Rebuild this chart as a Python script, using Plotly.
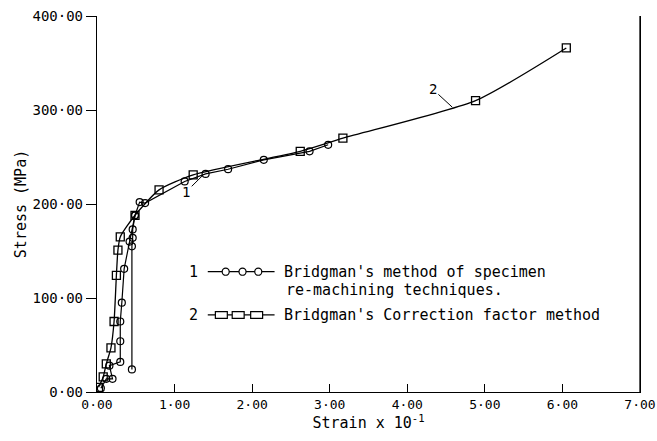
import plotly.graph_objects as go

# Series 1: Bridgman's method of specimen re-machining techniques (circles); None separates branches
strain_1 = [0.05, 0.12, 0.20, 0.16, 0.30, 0.30, 0.30, 0.32, 0.35, 0.42, 0.49, 0.55, 0.62, 1.13, 1.40, 1.69, 2.15, 2.74, 2.98,
            None, 0.45, 0.45, 0.46, 0.46, 0.49]
stress_1 = [4, 14, 14, 28, 32, 54, 75, 95, 131, 160, 188, 202, 201, 224, 232, 237, 247, 256, 263,
            None, 24, 155, 164, 173, 188]

# Series 2: Bridgman's Correction factor method (squares)
strain_2 = [0.02, 0.08, 0.12, 0.18, 0.22, 0.25, 0.27, 0.30, 0.49, 0.80, 1.24, 2.62, 3.17, 4.88, 6.05]
stress_2 = [5, 16, 30, 47, 75, 124, 151, 165, 188, 215, 231, 256, 270, 310, 366]

x_ticks = [0, 1, 2, 3, 4, 5, 6, 7]
x_ticktext = ["0·00", "1·00", "2·00", "3·00", "4·00", "5·00", "6·00", "7·00"]
y_ticks = [0, 100, 200, 300, 400]
y_ticktext = ["0·00", "100·00", "200·00", "300·00", "400·00"]

legend_1 = "Bridgman's method of specimen"
legend_1b = "re-machining techniques."
legend_2 = "Bridgman's Correction factor method"

FONT = "DejaVu Sans Mono"
fig = go.Figure()

fig.add_trace(go.Scatter(
    x=strain_1, y=stress_1, mode="lines+markers",
    line=dict(color="black", width=1.2),
    marker=dict(symbol="circle-open", size=7, color="black", line=dict(width=1.2)),
    showlegend=False, connectgaps=False))

fig.add_trace(go.Scatter(
    x=strain_2, y=stress_2, mode="lines+markers",
    line=dict(color="black", width=1.3, shape="spline", smoothing=0.6),
    marker=dict(symbol="square-open", size=8, color="black", line=dict(width=1.3)),
    showlegend=False))

# curve labels with leader lines
fig.add_annotation(x=1.37, y=231, ax=1.15, ay=213, axref="x", ayref="y", xref="x", yref="y",
                   text="1", showarrow=True, arrowhead=0, arrowwidth=1, arrowcolor="black",
                   font=dict(family=FONT, size=14, color="black"))
fig.add_annotation(x=4.58, y=303, ax=4.33, ay=322, axref="x", ayref="y", xref="x", yref="y",
                   text="2", showarrow=True, arrowhead=0, arrowwidth=1, arrowcolor="black",
                   font=dict(family=FONT, size=14, color="black"))

# right frame line
fig.add_shape(type="line", xref="paper", yref="paper", x0=1, x1=1, y0=0, y1=1,
              line=dict(color="black", width=1.3))

# custom legend (paper coords)
def legend_row(y, num, sym, xs):
    fig.add_annotation(x=0.178, y=y, xref="paper", yref="paper", text=num, showarrow=False,
                       xanchor="center", yanchor="middle",
                       font=dict(family=FONT, size=15, color="black"))
    fig.add_shape(type="line", xref="paper", yref="paper", x0=0.204, x1=0.327, y0=y, y1=y,
                  line=dict(color="black", width=1.2))
    for xc in xs:
        if sym == "circle":
            fig.add_shape(type="circle", xref="paper", yref="paper", x0=xc - 0.0065, x1=xc + 0.0065,
                          y0=y - 0.0095, y1=y + 0.0095, line=dict(color="black", width=1.2), fillcolor="white")
        else:
            fig.add_shape(type="rect", xref="paper", yref="paper", x0=xc - 0.011, x1=xc + 0.011,
                          y0=y - 0.009, y1=y + 0.009, line=dict(color="black", width=1.2), fillcolor="white")

legend_row(0.32, "1", "circle", [0.237, 0.268, 0.297])
legend_row(0.205, "2", "square", [0.229, 0.260, 0.294])
fig.add_annotation(x=0.341, y=0.32, xref="paper", yref="paper", text=legend_1, showarrow=False,
                   xanchor="left", yanchor="middle", font=dict(family=FONT, size=15, color="black"))
fig.add_annotation(x=0.345, y=0.272, xref="paper", yref="paper", text=legend_1b, showarrow=False,
                   xanchor="left", yanchor="middle", font=dict(family=FONT, size=15, color="black"))
fig.add_annotation(x=0.341, y=0.205, xref="paper", yref="paper", text=legend_2, showarrow=False,
                   xanchor="left", yanchor="middle", font=dict(family=FONT, size=15, color="black"))

fig.update_layout(
    width=657, height=441,
    margin=dict(l=97, r=17, t=16, b=49, autoexpand=False),
    paper_bgcolor="white", plot_bgcolor="white",
    font=dict(family=FONT, size=14, color="black"),
    xaxis=dict(range=[0, 7], tickvals=x_ticks, ticktext=x_ticktext, showgrid=False, zeroline=False,
               showline=True, linecolor="black", linewidth=1.3, ticks="inside", ticklen=8,
               tickcolor="black", tickwidth=1.2, tickfont=dict(size=13), automargin=False,
               ticklabeloverflow="allow",
               title=dict(text="Strain x 10<sup>-1</sup>", font=dict(family=FONT, size=15), standoff=2)),
    yaxis=dict(range=[0, 400], tickvals=y_ticks, ticktext=y_ticktext, showgrid=False, zeroline=False,
               showline=True, linecolor="black", linewidth=1.3, mirror=True, ticks="outside", ticklen=10,
               tickcolor="black", tickwidth=1.2, tickfont=dict(size=14), automargin=False,
               ticklabeloverflow="allow",
               title=dict(text="Stress (MPa)", font=dict(family=FONT, size=15), standoff=2)),
)

fig.write_html("out.html", config={"displayModeBar": False},
               post_script="document.body.style.margin='0';document.body.style.overflow='hidden';")
